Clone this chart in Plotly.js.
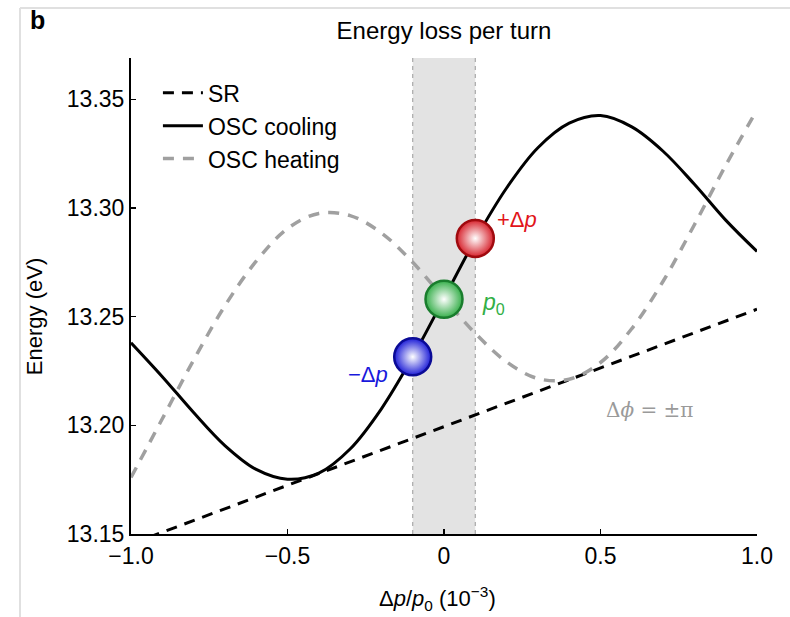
<!DOCTYPE html>
<html>
<head>
<meta charset="utf-8">
<script src="https://cdn.plot.ly/plotly-3.0.1.min.js"></script>
<style>
  html, body { margin: 0; padding: 0; background: #ffffff; }
  #chart { width: 790px; height: 617px; }
</style>
</head>
<body>
<div id="chart"></div>
<script>
// ---- data ----
const dpX = [-1.0, -0.9, -0.8, -0.7, -0.6, -0.5, -0.4, -0.3, -0.2, -0.1, 0.0,
             0.1, 0.2, 0.3, 0.4, 0.5, 0.6, 0.7, 0.8, 0.9, 1.0];
const coolingE = [13.2380, 13.2224, 13.2059, 13.1907, 13.1797, 13.1752, 13.1780, 13.1891, 13.2076, 13.2315, 13.2584,
                  13.2855, 13.3092, 13.3277, 13.3390, 13.3425, 13.3373, 13.3261, 13.3109, 13.2944, 13.2800];
const heatingE = [13.1760, 13.2030, 13.2300, 13.2550, 13.2755, 13.2905, 13.2975, 13.2965, 13.2885, 13.2750, 13.2584,
                  13.2423, 13.2292, 13.2215, 13.2212, 13.2289, 13.2445, 13.2663, 13.2923, 13.3196, 13.3451];
const srX = [-1.0, 1.0];
const srE = [13.1454, 13.2534];
const probeX = [-0.1, 0.0, 0.1];
const probeE = [13.2315, 13.2580, 13.2860];
const bandX = [-0.1, 0.1];
const xTickVals = [-1.0, -0.5, 0, 0.5, 1.0];
const xTickText = ['\u22121.0', '\u22120.5', '0', '0.5', '1.0'];
const yTickVals = [13.15, 13.20, 13.25, 13.30, 13.35];
const yTickText = ['13.15', '13.20', '13.25', '13.30', '13.35'];
const seriesNames = ['SR', 'OSC cooling', 'OSC heating'];

const FONT = 'Liberation Sans, Arial, Helvetica, sans-serif';

const traces = [
  { x: srX, y: srE, mode: 'lines', name: seriesNames[0],
    line: { color: '#000000', width: 3, dash: '11px,8px' } },
  { x: dpX, y: coolingE, mode: 'lines', name: seriesNames[1],
    line: { color: '#000000', width: 3, shape: 'spline', smoothing: 1 } },
  { x: dpX, y: heatingE, mode: 'lines', name: seriesNames[2],
    line: { color: '#a0a0a0', width: 3.5, dash: '11px,9px', shape: 'spline', smoothing: 1 } },
  { x: probeX, y: probeE, mode: 'markers', showlegend: false, hoverinfo: 'skip',
    marker: { size: 37,
              color: ['rgb(30,30,215)', 'rgb(55,175,75)', 'rgb(215,35,45)'],
              gradient: { type: 'radial', color: '#ffffff' },
              line: { width: 2.5, color: ['rgb(10,10,150)', 'rgb(25,125,45)', 'rgb(160,10,15)'] } } }
];

const layout = {
  width: 790, height: 617,
  margin: { l: 131, r: 33, t: 58, b: 83 },
  paper_bgcolor: '#ffffff', plot_bgcolor: '#ffffff',
  font: { family: FONT, color: '#000000', size: 22 },
  title: { text: 'Energy loss per turn', font: { family: FONT, size: 24, color: '#000' },
           x: 0.5, xref: 'paper', y: 1 - 31 / 617, yref: 'container', yanchor: 'middle' },
  showlegend: true,
  legend: { x: 0.043, y: 0.972, xanchor: 'left', yanchor: 'top', bgcolor: 'rgba(0,0,0,0)',
            font: { family: FONT, size: 23, color: '#000' }, tracegroupgap: 0, itemwidth: 40 },
  xaxis: { range: [-1, 1], showgrid: false, zeroline: false, showline: true, linecolor: '#000', linewidth: 2,
           ticks: 'inside', ticklen: 5, tickwidth: 1.5, tickcolor: '#000',
           tickvals: xTickVals, ticktext: xTickText, tickfont: { family: FONT, size: 23, color: '#000' } },
  yaxis: { range: [13.15, 13.369], showgrid: false, zeroline: false, showline: true, linecolor: '#000', linewidth: 2,
           ticks: 'inside', ticklen: 5, tickwidth: 1.5, tickcolor: '#000',
           tickvals: yTickVals, ticktext: yTickText, tickfont: { family: FONT, size: 23, color: '#000' } },
  shapes: [
    { type: 'rect', xref: 'x', yref: 'paper', x0: bandX[0], x1: bandX[1], y0: 0, y1: 1,
      fillcolor: '#e3e3e3', line: { width: 0 }, layer: 'below' },
    { type: 'line', xref: 'x', yref: 'paper', x0: bandX[0], x1: bandX[0], y0: 0, y1: 1,
      line: { color: '#a8a8a8', width: 1.2, dash: '4px,4px' }, layer: 'below' },
    { type: 'line', xref: 'x', yref: 'paper', x0: bandX[1], x1: bandX[1], y0: 0, y1: 1,
      line: { color: '#a8a8a8', width: 1.2, dash: '4px,4px' }, layer: 'below' },
    { type: 'line', xref: 'paper', yref: 'paper', x0: -0.1773, x1: 1.1, y0: 1.105, y1: 1.105,
      line: { color: '#e0e0e0', width: 2 } },
    { type: 'line', xref: 'paper', yref: 'paper', x0: -0.1773, x1: -0.1773, y0: 1.105, y1: -0.25,
      line: { color: '#e0e0e0', width: 2 } }
  ],
  annotations: [
    { text: '<b>b</b>', xref: 'paper', yref: 'paper', x: -0.150, y: 1.080, showarrow: false,
      font: { family: FONT, size: 25, color: '#000' }, xanchor: 'center', yanchor: 'middle' },
    { text: 'Energy (eV)', xref: 'paper', yref: 'paper', x: -0.153, y: 0.456, textangle: -90, showarrow: false,
      font: { family: FONT, size: 22, color: '#000' }, xanchor: 'center', yanchor: 'middle' },
    { text: '\u0394<i>p</i>/<i>p</i><sub>0</sub> (10<sup>\u22123</sup>)', xref: 'paper', yref: 'paper',
      x: 0.489, y: -0.136, showarrow: false, font: { family: FONT, size: 22, color: '#000' },
      xanchor: 'center', yanchor: 'middle' },
    { text: '+\u0394<i>p</i>', xref: 'x', yref: 'y', x: 0.233, y: 13.2948, showarrow: false,
      font: { family: FONT, size: 22, color: 'rgb(225,20,25)' }, xanchor: 'center', yanchor: 'middle' },
    { text: '<i>p</i><sub>0</sub>', xref: 'x', yref: 'y', x: 0.157, y: 13.2560, showarrow: false,
      font: { family: FONT, size: 23, color: 'rgb(50,175,70)' }, xanchor: 'center', yanchor: 'middle' },
    { text: '\u2212\u0394<i>p</i>', xref: 'x', yref: 'y', x: -0.243, y: 13.2236, showarrow: false,
      font: { family: FONT, size: 22, color: 'rgb(25,25,220)' }, xanchor: 'center', yanchor: 'middle' },
    { text: '\u0394<i>\u03d5</i> = \u00b1\u03c0', xref: 'x', yref: 'y', x: 0.658, y: 13.2070, showarrow: false,
      font: { family: 'DejaVu Serif, serif', size: 20, color: '#9a9a9a' }, xanchor: 'center', yanchor: 'middle' }
  ]
};

Plotly.newPlot('chart', traces, layout, { displayModeBar: false, staticPlot: true });
</script>
</body>
</html>
